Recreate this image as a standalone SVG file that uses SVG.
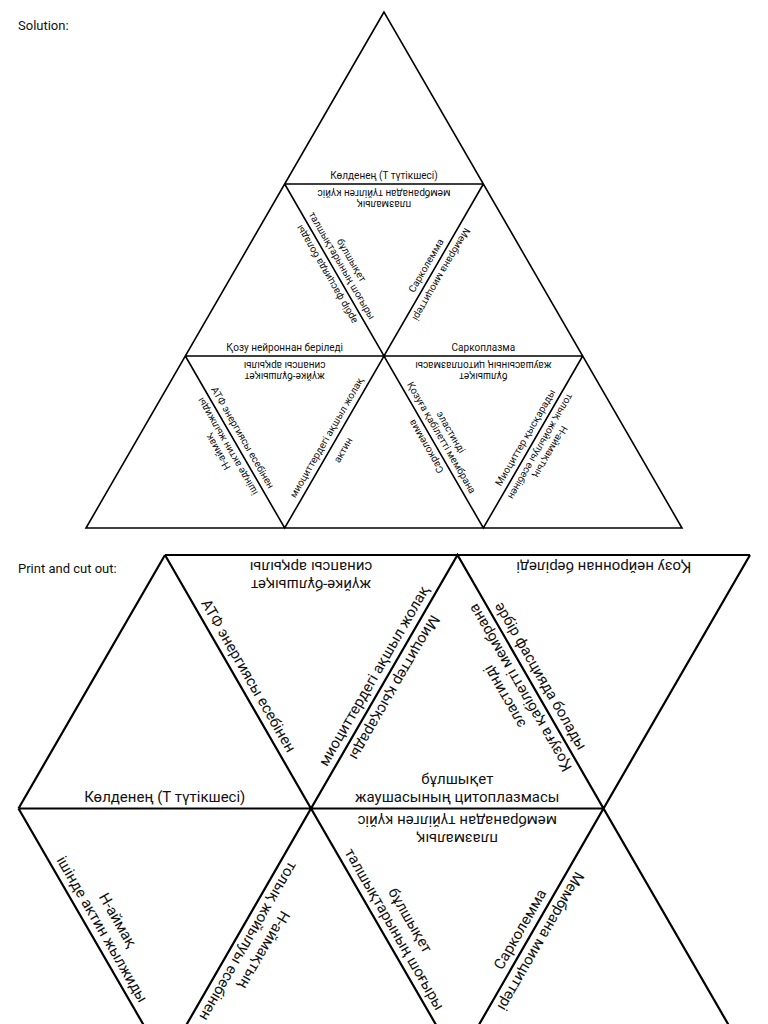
<svg xmlns="http://www.w3.org/2000/svg" width="768" height="1024" viewBox="0 0 768 1024">
<style>
text{font-family:Roboto,"Liberation Sans",sans-serif;fill:#111;text-anchor:middle;dominant-baseline:central}
.s{font-size:10px}
.b{font-size:15px}
.h{font-size:13px;text-anchor:start}
.l1{stroke:#000;stroke-width:1.6;fill:none}
.l2{stroke:#000;stroke-width:2.2;fill:none}
</style>
<rect width="768" height="1024" fill="#fff"/>
<text class="h" x="18" y="25">Solution:</text>
<text class="h" x="18" y="568">Print and cut out:</text>
<g id="connectors">
<path class="l1" d="M384,12 L86,528 L682,528 Z M284.67,184 L483.33,184 M185.33,356 L582.67,356 M284.67,184 L384,356 L483.33,184 M185.33,356 L284.67,528 L384,356 L483.33,528 L582.67,356"/>
<path class="l2" d="M165,555 L750,555 M18.5,808.5 L603.5,808.5 M165,555 L18.5,808.5 M165,555 L311,808.5 L457.5,555 L603.5,808.5 L750,555 M18.5,808.5 L165,1062 L311,808.5 L457.5,1062 L603.5,808.5 L750,1062"/>
</g>
<g id="solution">
<text class="s" transform="translate(384,175)">Көлденең (Т түтікшесі)</text>
<text class="s" transform="translate(384,193) rotate(180)">мембранадан түйілген күйіс</text>
<text class="s" transform="translate(384,204) rotate(180)">плазмалық</text>
<text class="s" transform="translate(326.5,274.5) rotate(240)">әрбір фасцияда болады</text>
<text class="s" transform="translate(342.1,265.5) rotate(60)">талшықтарының шоғыры</text>
<text class="s" transform="translate(351.6,260) rotate(60)">бұлшықет</text>
<text class="s" transform="translate(425.9,265.5) rotate(-60)">Сарколемма</text>
<text class="s" transform="translate(441.5,274.5) rotate(120)">Мембрана миоциттері</text>
<text class="s" transform="translate(284.67,347)">Қозу нейроннан беріледі</text>
<text class="s" transform="translate(284.67,365) rotate(180)">синапсы арқылы</text>
<text class="s" transform="translate(284.67,376) rotate(180)">жүйке-бұлшықет</text>
<text class="s" transform="translate(483.33,347)">Саркоплазма</text>
<text class="s" transform="translate(483.33,365) rotate(180)">жаушасының цитоплазмасы</text>
<text class="s" transform="translate(483.33,376) rotate(180)">бұлшықет</text>
<text class="s" transform="translate(227.2,446.5) rotate(240)">ішінде актин жылжиды</text>
<text class="s" transform="translate(217.7,452) rotate(240)">Н-аймақ</text>
<text class="s" transform="translate(242.8,437.5) rotate(60)">АТФ энергиясы есебінен</text>
<text class="s" transform="translate(326.5,437.5) rotate(-60)">миоциттердегі ақшыл жолақ</text>
<text class="s" transform="translate(343,450) rotate(-60)">актин</text>
<text class="s" transform="translate(425.9,446.5) rotate(240)">Сарколемма</text>
<text class="s" transform="translate(441.5,437.5) rotate(60)">Қозуға қабілетті мембрана</text>
<text class="s" transform="translate(451,432) rotate(60)">эластинді</text>
<text class="s" transform="translate(525.2,437.5) rotate(-60)">Миоциттер қысқарады</text>
<text class="s" transform="translate(540.8,446.5) rotate(120)">толық жойылуы есебінен</text>
<text class="s" transform="translate(550.3,452) rotate(120)">Н-аймақтың</text>
</g>
<g id="cardA">
<text class="b" transform="translate(164.75,796.5)">Көлденең (Т түтікшесі)</text>
</g>
<g id="cardB">
<text class="b" transform="translate(311,567) rotate(180)">синапсы арқылы</text>
<text class="b" transform="translate(311,585) rotate(180)">жүйке-бұлшықет</text>
<text class="b" transform="translate(248.4,675.75) rotate(60)">АТФ энергиясы есебінен</text>
<text class="b" transform="translate(373.9,675.75) rotate(-60)">миоциттердегі ақшыл жолақ</text>
</g>
<g id="cardC">
<text class="b" transform="translate(394.6,687.75) rotate(120)">Миоциттер қысқарады</text>
<text class="b" transform="translate(520.1,687.75) rotate(240)">Қозуға қабілетті мембрана</text>
<text class="b" transform="translate(504.5,696.75) rotate(240)">эластинді</text>
<text class="b" transform="translate(457.25,796.5)">жаушасының цитоплазмасы</text>
<text class="b" transform="translate(457.25,778.5)">бұлшықет</text>
</g>
<g id="cardD">
<text class="b" transform="translate(603.75,567) rotate(180)">Қозу нейроннан беріледі</text>
<text class="b" transform="translate(540.9,675.75) rotate(60)">әрбір фасцияда болады</text>
</g>
<g id="cardE">
<text class="b" transform="translate(102.1,929.25) rotate(60)">ішінде актин жылжиды</text>
<text class="b" transform="translate(117.7,920.25) rotate(60)">Н-аймақ</text>
</g>
<g id="cardF">
<text class="b" transform="translate(248.4,941.25) rotate(120)">толық жойылуы есебінен</text>
<text class="b" transform="translate(264,950.25) rotate(120)">Н-аймақтың</text>
</g>
<g id="cardG">
<text class="b" transform="translate(457.25,820.5) rotate(180)">мембранадан түйілген күйіс</text>
<text class="b" transform="translate(457.25,838.5) rotate(180)">плазмалық</text>
<text class="b" transform="translate(394.6,929.25) rotate(60)">талшықтарының шоғыры</text>
<text class="b" transform="translate(410.2,920.25) rotate(60)">бұлшықет</text>
<text class="b" transform="translate(520.1,929.25) rotate(-60)">Сарколемма</text>
</g>
<g id="cardH">
<text class="b" transform="translate(540.9,941.25) rotate(120)">Мембрана миоциттері</text>
</g>
</svg>
